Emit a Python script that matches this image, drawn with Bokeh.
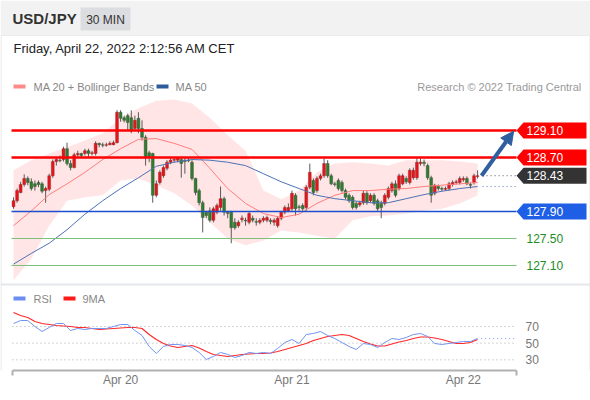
from bokeh.plotting import figure
from bokeh.models import Range1d, LinearAxis, FixedTicker, Arrow, NormalHead
from bokeh.core.properties import value
from bokeh.embed import file_html
from bokeh.resources import INLINE

# ---------------- data (USD/JPY, 30 min candles, Apr 19 09:00 -> Apr 22 02:00) -------------
opens = [127.97, 128.06, 128.18, 128.30, 128.39, 128.34, 128.31, 128.33, 128.31, 128.21,
         128.23, 128.43, 128.64, 128.66, 128.67, 128.83, 128.61, 128.55, 128.74, 128.76,
         128.76, 128.80, 128.76, 128.76, 128.91, 128.89, 128.88, 128.89, 128.89, 128.92,
         129.37, 129.29, 129.32, 129.29, 129.13, 129.28, 129.13, 129.00, 128.77, 128.76,
         128.14, 128.33, 128.43, 128.54, 128.63, 128.66, 128.66, 128.67, 128.66, 128.66,
         128.63, 128.39, 128.21, 128.03, 127.89, 127.91, 127.77, 127.89, 127.96, 128.09,
         127.89, 127.89, 127.74, 127.69, 127.78, 127.77, 127.74, 127.80, 127.75, 127.74,
         127.77, 127.77, 127.77, 127.74, 127.69, 127.80, 127.89, 127.91, 127.94, 128.14,
         127.97, 127.99, 127.96, 128.26, 128.36, 128.21, 128.39, 128.43, 128.61, 128.43,
         128.31, 128.36, 128.33, 128.21, 128.14, 128.11, 128.02, 128.00, 128.03, 128.17,
         128.06, 128.14, 128.06, 128.02, 128.02, 128.11, 128.21, 128.31, 128.24, 128.31,
         128.39, 128.33, 128.40, 128.40, 128.61, 128.63, 128.58, 128.40, 128.17, 128.27,
         128.24, 128.23, 128.24, 128.30, 128.33, 128.33, 128.37, 128.39, 128.30, 128.33,
         128.42]
closes = [128.06, 128.21, 128.30, 128.39, 128.33, 128.24, 128.27, 128.30, 128.20, 128.24,
          128.43, 128.64, 128.67, 128.65, 128.83, 128.61, 128.55, 128.74, 128.76, 128.73,
          128.80, 128.76, 128.77, 128.91, 128.89, 128.88, 128.89, 128.91, 128.92, 129.37,
          129.28, 129.25, 129.22, 129.10, 129.25, 129.13, 129.00, 128.71, 128.71, 128.14,
          128.31, 128.48, 128.55, 128.63, 128.66, 128.67, 128.69, 128.61, 128.64, 128.65,
          128.39, 128.18, 128.03, 127.81, 127.84, 127.77, 127.94, 127.99, 128.09, 127.89,
          127.87, 127.66, 127.66, 127.74, 127.80, 127.76, 127.87, 127.77, 127.74, 127.77,
          127.80, 127.81, 127.75, 127.77, 127.80, 127.89, 127.96, 127.96, 128.17, 127.94,
          127.96, 127.94, 128.26, 128.48, 128.18, 128.39, 128.43, 128.61, 128.43, 128.31,
          128.30, 128.24, 128.21, 128.11, 128.06, 127.96, 127.96, 128.03, 128.17, 128.03,
          128.14, 128.02, 127.94, 127.96, 128.14, 128.24, 128.31, 128.14, 128.43, 128.43,
          128.34, 128.51, 128.51, 128.63, 128.63, 128.61, 128.40, 128.14, 128.29, 128.24,
          128.23, 128.24, 128.31, 128.33, 128.34, 128.39, 128.39, 128.31, 128.29, 128.43,
          128.43]
highs = [128.11, 128.24, 128.34, 128.45, 128.42, 128.39, 128.36, 128.36, 128.34, 128.27,
         128.46, 128.67, 128.71, 128.73, 128.86, 128.92, 128.66, 128.77, 128.80, 128.77,
         128.83, 128.83, 128.80, 128.94, 128.92, 128.92, 128.92, 128.94, 128.95, 129.40,
         129.40, 129.32, 129.35, 129.40, 129.32, 129.37, 129.25, 129.03, 128.80, 128.77,
         128.36, 128.51, 128.58, 128.66, 128.69, 128.70, 128.70, 128.70, 128.69, 128.69,
         128.66, 128.40, 128.24, 128.06, 127.91, 127.96, 127.97, 128.02, 128.27, 128.12,
         127.91, 127.91, 127.80, 127.77, 127.84, 127.81, 127.90, 127.84, 127.80, 127.80,
         127.83, 127.84, 127.80, 127.80, 127.83, 127.91, 127.99, 128.02, 128.21, 128.17,
         128.00, 128.02, 128.29, 128.61, 128.39, 128.42, 128.46, 128.69, 128.66, 128.46,
         128.34, 128.39, 128.36, 128.24, 128.17, 128.14, 128.05, 128.06, 128.21, 128.20,
         128.17, 128.17, 128.09, 128.06, 128.17, 128.27, 128.34, 128.36, 128.46, 128.46,
         128.42, 128.54, 128.55, 128.69, 128.69, 128.67, 128.61, 128.43, 128.31, 128.30,
         128.27, 128.27, 128.34, 128.36, 128.37, 128.42, 128.42, 128.42, 128.33, 128.46,
         128.51]
lows = [127.94, 128.03, 128.17, 128.27, 128.29, 128.21, 128.21, 128.26, 128.17, 128.03,
        128.20, 128.40, 128.58, 128.63, 128.64, 128.58, 128.51, 128.54, 128.71, 128.69,
        128.73, 128.71, 128.73, 128.73, 128.85, 128.85, 128.86, 128.88, 128.88, 128.91,
        129.23, 129.22, 129.10, 129.06, 129.10, 129.06, 128.95, 128.58, 128.63, 128.03,
        128.11, 128.30, 128.40, 128.51, 128.60, 128.63, 128.63, 128.40, 128.46, 128.63,
        128.36, 128.14, 127.99, 127.59, 127.80, 127.74, 127.74, 127.86, 127.91, 127.84,
        127.80, 127.43, 127.63, 127.66, 127.74, 127.69, 127.71, 127.74, 127.69, 127.71,
        127.74, 127.74, 127.71, 127.69, 127.66, 127.77, 127.86, 127.89, 127.91, 127.84,
        127.91, 127.91, 127.91, 128.23, 128.14, 128.18, 128.36, 128.40, 128.40, 128.29,
        128.27, 128.21, 128.18, 128.08, 128.03, 127.93, 127.93, 127.97, 128.00, 128.00,
        128.03, 127.99, 127.91, 127.80, 127.99, 128.08, 128.18, 128.11, 128.21, 128.29,
        128.31, 128.30, 128.37, 128.37, 128.58, 128.57, 128.37, 128.03, 128.14, 128.21,
        128.20, 128.21, 128.21, 128.27, 128.30, 128.30, 128.34, 128.29, 128.24, 128.30,
        128.39]

# indicator readings, every 5th candle
ind_idx = list(range(0, 131, 5))
ma50 = [127.12, 127.28, 127.43, 127.63, 127.86, 128.06, 128.24, 128.40, 128.57, 128.63,
        128.67, 128.66, 128.63, 128.58, 128.46, 128.34, 128.24, 128.14, 128.09, 128.06,
        128.03, 128.03, 128.09, 128.15, 128.20, 128.24, 128.27]
ma20 = [127.69, 127.91, 128.15, 128.31, 128.48, 128.67, 128.83, 128.97, 128.98, 128.91,
        128.82, 128.54, 128.24, 128.02, 127.87, 127.81, 127.86, 128.02, 128.14, 128.21,
        128.21, 128.23, 128.24, 128.27, 128.29, 128.31, 128.33]
bb_upper = [128.51, 128.66, 128.76, 128.85, 128.95, 129.06, 129.28, 129.43, 129.54, 129.56,
            129.50, 129.29, 129.03, 128.80, 128.21, 128.08, 128.21, 128.48, 128.61, 128.63,
            128.61, 128.58, 128.66, 128.66, 128.66, 128.64, 128.61]
bb_lower = [126.88, 127.20, 127.69, 128.06, 128.11, 128.14, 128.36, 128.39, 128.29, 128.17,
            127.99, 127.74, 127.50, 127.40, 127.47, 127.62, 127.59, 127.54, 127.50, 127.77,
            127.83, 127.84, 127.87, 127.91, 127.94, 128.02, 128.14]

# RSI readings, every 2nd candle
rsi_idx = list(range(0, 131, 2))
rsi = [73.6, 77.2, 77.2, 70.0, 64.0, 68.8, 73.6, 73.6, 65.2, 67.6,
       66.4, 67.6, 67.6, 67.6, 70.0, 72.4, 72.4, 65.2, 59.2, 46.0,
       37.6, 46.0, 48.4, 48.4, 47.2, 44.8, 38.8, 30.4, 34.0, 38.8,
       36.4, 32.8, 35.2, 38.8, 37.6, 38.8, 37.6, 43.6, 50.8, 54.4,
       49.6, 60.4, 61.6, 64.0, 59.2, 55.6, 50.8, 46.0, 42.4, 49.6,
       48.4, 44.8, 50.8, 55.6, 54.4, 56.8, 60.4, 61.6, 58.0, 49.6,
       48.4, 49.6, 50.8, 52.0, 52.0, 55.6]
rsi_ma9 = [86.8, 83.2, 80.8, 76.0, 73.6, 72.4, 71.2, 70.6, 70.0, 68.8,
           68.8, 67.6, 66.4, 67.0, 67.6, 68.2, 68.8, 68.8, 67.6, 60.4,
           54.4, 49.6, 46.6, 44.8, 46.0, 47.2, 44.2, 40.0, 36.4, 35.2,
           34.0, 35.2, 36.4, 37.0, 37.6, 37.6, 38.2, 40.0, 42.4, 44.8,
           47.2, 49.6, 53.2, 55.6, 58.0, 59.2, 60.4, 59.2, 55.6, 52.0,
           49.0, 46.6, 46.6, 49.0, 51.4, 53.2, 55.6, 57.4, 57.4, 56.2,
           54.4, 52.0, 49.6, 49.6, 50.8, 54.4]
rsi_levels = [70, 50, 30]

# key levels
resistances = [129.10, 128.70]
last_price = 128.43
pivot = 127.90
supports = [127.50, 127.10]
target = 129.10

day_ticks = {30: "Apr 20", 78: "Apr 21", 126: "Apr 22"}

# ---------------- figure --------------------------------------------------------------
W, H, FH = 590, 400, 370
FONT = value("Liberation Sans")
p = figure(width=W, height=H, output_backend="svg", toolbar_location=None,
           x_range=Range1d(0, W), y_range=Range1d(FH, 0),
           x_axis_location=None, y_axis_location=None,
           min_border_left=0, min_border_right=0, min_border_top=0, min_border_bottom=H - FH)
p.outline_line_color = None
p.grid.visible = False
p.background_fill_color = "white"
p.border_fill_color = "white"
p.extra_x_ranges = {"t": Range1d(-3.6415, 161.625)}
p.extra_y_ranges = {"price": Range1d(125.5444, 131.0259), "rsi": Range1d(17.15, 461.59)}
T = dict(x_range_name="t", y_range_name="price")
R = dict(x_range_name="t", y_range_name="rsi")
N = len(opens)
END_T = 140.9      # right end of the plotting area (index units)
START_T = -0.56

# frame border + header
p.quad(left=[0.5], right=[589.5], top=[35], bottom=[420], fill_color=None, line_color="#e4e4e4", line_width=1)
p.quad(left=[0], right=[W], top=[0], bottom=[35], fill_color="#f2f2f2", line_color=None)
p.quad(left=[80], right=[130], top=[7], bottom=[30], fill_color="#dcdde0", line_color=None)
p.text(x=[12], y=[18], text=["USD/JPY"], text_font=FONT, text_font_style="bold",
       text_font_size="15px", text_color="#333333", text_baseline="middle")
p.text(x=[105], y=[19], text=["30 MIN"], text_font=FONT, text_font_size="12px",
       text_color="#333333", text_baseline="middle", text_align="center")
p.text(x=[13], y=[48], text=["Friday, April 22, 2022 2:12:56 AM CET"], text_font=FONT,
       text_font_size="13px", text_color="#222222", text_baseline="middle")
# legend
p.quad(left=[13], right=[25], top=[84], bottom=[88], fill_color="#ff8a8a", line_color=None)
p.text(x=[33], y=[86], text=["MA 20 + Bollinger Bands"], text_font=FONT, text_font_size="11px",
       text_color="#888888", text_baseline="middle")
p.quad(left=[156], right=[168], top=[84], bottom=[88], fill_color="#2d5b9a", line_color=None)
p.text(x=[175], y=[86], text=["MA 50"], text_font=FONT, text_font_size="11px",
       text_color="#888888", text_baseline="middle")
p.text(x=[581], y=[86], text=["Research \u00a9 2022 Trading Central"], text_font=FONT,
       text_font_size="11px", text_color="#9a9a9a", text_baseline="middle", text_align="right")

# Bollinger band
p.varea(x=ind_idx, y1=bb_lower, y2=bb_upper, fill_color="#ff2a2a", fill_alpha=0.12, **T)

# candles
idx = list(range(N))
p.segment(x0=idx, y0=lows, x1=idx, y1=highs, line_color="#5a5a5a", line_width=1, **T)
up = [i for i in idx if closes[i] >= opens[i]]
dn = [i for i in idx if closes[i] < opens[i]]
p.vbar(x=up, width=0.8, bottom=[opens[i] for i in up], top=[closes[i] for i in up],
       fill_color="#e3161c", line_color="#8a2020", line_width=0.4, **T)
p.vbar(x=dn, width=0.8, bottom=[closes[i] for i in dn], top=[opens[i] for i in dn],
       fill_color="#2f7d2f", line_color="#3a4a3a", line_width=0.4, **T)

# moving averages
p.line(ind_idx, ma20, line_color="#ff7d7d", line_width=1, **T)
p.line(ind_idx, ma50, line_color="#4d72b5", line_width=1, **T)

# key level lines
for lv in resistances:
    p.segment(x0=[START_T], x1=[END_T], y0=[lv], y1=[lv], line_color="#ff0000", line_width=2.6, **T)
p.segment(x0=[START_T], x1=[END_T], y0=[pivot], y1=[pivot], line_color="#1c4fd0", line_width=1.3, **T)
for lv in supports:
    p.segment(x0=[START_T], x1=[END_T], y0=[lv], y1=[lv], line_color="#7cc07c", line_width=1, **T)
p.segment(x0=[N + 0.4], x1=[END_T], y0=[last_price], y1=[last_price], line_color="#555555",
          line_width=1, line_dash="1 3", **T)
p.segment(x0=[N + 0.4], x1=[END_T], y0=[ma50[-1]], y1=[ma50[-1]], line_color="#5a78b0",
          line_width=1, line_dash="1 3", **T)

# level labels (boxes with a left notch)
HH = 8 / 67.5
boxes = [(resistances[0], "#ff0000"), (resistances[1], "#ff0000"),
         (last_price, "#333333"), (pivot, "#1f5fe6")]
for lv, col in boxes:
    p.patch(x=[516, 523, 586, 586, 523], y=[lv, lv + HH, lv + HH, lv - HH, lv - HH],
            fill_color=col, line_color=None, y_range_name="price")
    p.text(x=[526], y=[lv], text=[f"{lv:.2f}"], text_font=FONT, text_font_size="12px",
           text_color="white", text_baseline="middle", y_range_name="price")
for lv in supports:
    p.text(x=[526], y=[lv], text=[f"{lv:.2f}"], text_font=FONT, text_font_size="12px",
           text_color="#1e8c1e", text_baseline="middle", y_range_name="price")

# target arrow
AC = "#2f5f9f"
p.add_layout(Arrow(end=NormalHead(size=13, fill_color=AC, line_color=AC),
                   x_start=N + 0.1, y_start=last_price, x_end=END_T - 0.8, y_end=target - 0.01,
                   line_color=AC, line_width=4, x_range_name="t", y_range_name="price"))

# separator between panels
p.segment(x0=[0], x1=[W], y0=[284], y1=[284], line_color="#e6e7ea", line_width=2)

# RSI panel
p.quad(left=[13], right=[25], top=[296], bottom=[300], fill_color="#6b8ef0", line_color=None)
p.text(x=[33], y=[298], text=["RSI"], text_font=FONT, text_font_size="11px",
       text_color="#888888", text_baseline="middle")
p.quad(left=[63], right=[75], top=[296], bottom=[300], fill_color="#ff1a1a", line_color=None)
p.text(x=[82], y=[298], text=["9MA"], text_font=FONT, text_font_size="11px",
       text_color="#888888", text_baseline="middle")
for lv in rsi_levels:
    p.segment(x0=[-0.3], x1=[END_T], y0=[lv], y1=[lv], line_color="#aaaaaa",
              line_width=1, line_dash="1 3", **R)
    p.text(x=[525], y=[lv], text=[str(lv)], text_font=FONT, text_font_size="12px",
           text_color="#777777", text_baseline="middle", y_range_name="rsi")
p.line(rsi_idx, rsi_ma9, line_color="#ff2a2a", line_width=1.2, **R)
p.line(rsi_idx, rsi, line_color="#7393f0", line_width=1, **R)
p.segment(x0=[rsi_idx[-1] + 1], x1=[END_T], y0=[rsi[-1]], y1=[rsi[-1]], line_color="#8aa4f0",
          line_width=1, line_dash="1 3", **R)

# time axis
xaxis = LinearAxis(x_range_name="t",
                   ticker=FixedTicker(ticks=list(day_ticks.keys()), minor_ticks=[-0.2, END_T - 0.05]),
                   major_label_overrides=day_ticks, bounds=(-0.28, END_T),
                   axis_line_color="#b0b0b0", axis_line_width=2,
                   major_tick_line_color=None, major_tick_out=0, major_tick_in=0,
                   minor_tick_line_color="#b0b0b0", minor_tick_line_width=2,
                   minor_tick_out=5, minor_tick_in=0,
                   major_label_text_font_size="12px", major_label_text_color="#777777",
                   major_label_text_font="Liberation Sans", major_label_standoff=-3)
p.add_layout(xaxis, "below")

open("out.html", "w").write(file_html(p, INLINE))
